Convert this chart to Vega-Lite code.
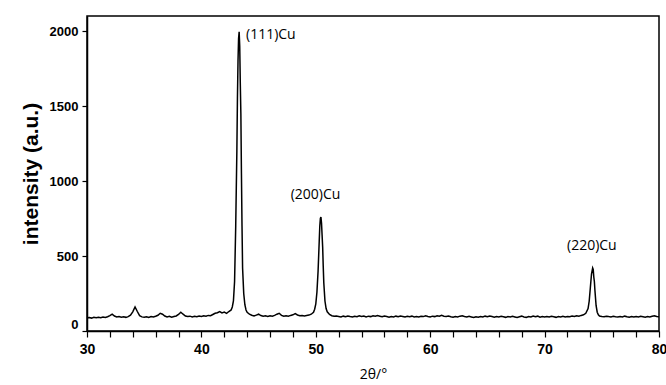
{
  "$schema": "https://vega.github.io/schema/vega-lite/v6.json",
  "width": 572,
  "height": 315,
  "autosize": {"type": "none"},
  "padding": {"left": 87, "top": 16, "right": 7, "bottom": 54},
  "background": "white",
  "config": {
    "view": {"stroke": "black", "strokeWidth": 1.5},
    "axis": {"grid": false, "domainColor": "black", "domainWidth": 1.5, "tickColor": "black", "tickWidth": 1.2, "labelColor": "black", "titleColor": "black"}
  },
  "encoding": {
    "x": {
      "field": "x", "type": "quantitative",
      "scale": {"domain": [30, 80], "nice": false, "zero": false},
      "axis": {
        "title": "2θ/°",
        "titleFont": "Open Sans", "titleFontSize": 14, "titleFontWeight": "normal", "titlePadding": 11,
        "values": [30,32,34,36,38,40,42,44,46,48,50,52,54,56,58,60,62,64,66,68,70,72,74,76,78,80],
        "labelExpr": "(datum.value == 30 || datum.value == 40 || datum.value == 50 || datum.value == 60 || datum.value == 70 || datum.value == 80) ? datum.label : ''",
        "labelFont": "Liberation Sans", "labelFontWeight": "bold", "labelFontSize": 14,
        "labelPadding": 5, "tickSize": 6, "labelOverlap": false, "labelFlush": false
      }
    },
    "y": {
      "field": "y", "type": "quantitative",
      "scale": {"domain": [0, 2100], "nice": false},
      "axis": {
        "title": "intensity (a.u.)",
        "titleFont": "Liberation Sans", "titleFontSize": 21, "titleFontWeight": "bold", "titlePadding": 8,
        "values": [0, 500, 1000, 1500, 2000],
        "format": "d",
        "labelFont": "Liberation Sans", "labelFontWeight": "bold", "labelFontSize": 13,
        "labelPadding": 4, "tickSize": 5, "labelFlush": true
      }
    }
  },
  "layer": [
    {
      "data": {"values": [
        {"x":30.0,"y":88},{"x":30.2,"y":90},{"x":30.4,"y":86},{"x":30.6,"y":91},{"x":30.8,"y":89},{"x":31.0,"y":92},{"x":31.2,"y":88},{"x":31.4,"y":93},{"x":31.6,"y":90},{"x":31.8,"y":95},
        {"x":32.0,"y":102},{"x":32.2,"y":112},{"x":32.4,"y":100},{"x":32.6,"y":94},{"x":32.8,"y":97},{"x":33.0,"y":92},{"x":33.2,"y":95},{"x":33.4,"y":91},{"x":33.6,"y":96},{"x":33.8,"y":105},
        {"x":34.0,"y":128},{"x":34.2,"y":160},{"x":34.4,"y":130},{"x":34.6,"y":102},{"x":34.8,"y":94},{"x":35.0,"y":91},{"x":35.2,"y":95},{"x":35.4,"y":90},{"x":35.6,"y":96},{"x":35.8,"y":93},
        {"x":36.0,"y":98},{"x":36.2,"y":105},{"x":36.4,"y":118},{"x":36.6,"y":112},{"x":36.8,"y":100},{"x":37.0,"y":94},{"x":37.2,"y":98},{"x":37.4,"y":92},{"x":37.6,"y":97},{"x":37.8,"y":100},
        {"x":38.0,"y":110},{"x":38.2,"y":125},{"x":38.4,"y":112},{"x":38.6,"y":100},{"x":38.8,"y":96},{"x":39.0,"y":99},{"x":39.2,"y":94},{"x":39.4,"y":98},{"x":39.6,"y":95},{"x":39.8,"y":100},
        {"x":40.0,"y":97},{"x":40.2,"y":101},{"x":40.4,"y":98},{"x":40.6,"y":104},{"x":40.8,"y":102},{"x":41.0,"y":110},{"x":41.2,"y":118},{"x":41.4,"y":122},{"x":41.6,"y":130},{"x":41.8,"y":120},
        {"x":42.0,"y":126},{"x":42.2,"y":118},{"x":42.4,"y":130},{"x":42.6,"y":140},{"x":42.7,"y":160},{"x":42.8,"y":200},{"x":42.9,"y":330},{"x":43.0,"y":700},{"x":43.1,"y":1200},{"x":43.15,"y":1550},
        {"x":43.2,"y":1800},{"x":43.25,"y":1950},{"x":43.3,"y":1995},{"x":43.35,"y":1900},{"x":43.4,"y":1650},{"x":43.45,"y":1450},{"x":43.5,"y":1050},{"x":43.55,"y":700},{"x":43.6,"y":420},{"x":43.7,"y":250},
        {"x":43.8,"y":175},{"x":43.9,"y":140},{"x":44.0,"y":125},{"x":44.2,"y":112},{"x":44.4,"y":105},{"x":44.6,"y":100},{"x":44.8,"y":106},{"x":45.0,"y":112},{"x":45.2,"y":103},{"x":45.4,"y":98},
        {"x":45.6,"y":101},{"x":45.8,"y":97},{"x":46.0,"y":102},{"x":46.2,"y":99},{"x":46.4,"y":104},{"x":46.6,"y":112},{"x":46.8,"y":118},{"x":47.0,"y":104},{"x":47.2,"y":98},{"x":47.4,"y":102},
        {"x":47.6,"y":99},{"x":47.8,"y":104},{"x":48.0,"y":108},{"x":48.2,"y":116},{"x":48.4,"y":107},{"x":48.6,"y":102},{"x":48.8,"y":104},{"x":49.0,"y":100},{"x":49.2,"y":103},{"x":49.4,"y":106},
        {"x":49.6,"y":112},{"x":49.8,"y":125},{"x":49.9,"y":145},{"x":50.0,"y":180},{"x":50.1,"y":260},{"x":50.2,"y":400},{"x":50.3,"y":600},{"x":50.35,"y":700},{"x":50.4,"y":750},{"x":50.45,"y":760},
        {"x":50.5,"y":720},{"x":50.55,"y":640},{"x":50.6,"y":560},{"x":50.65,"y":430},{"x":50.7,"y":320},{"x":50.8,"y":200},{"x":50.9,"y":150},{"x":51.0,"y":128},{"x":51.2,"y":110},{"x":51.4,"y":102},
        {"x":51.6,"y":98},{"x":51.8,"y":100},{"x":52.0,"y":97},{"x":52.2,"y":94},{"x":52.4,"y":99},{"x":52.6,"y":95},{"x":52.8,"y":100},{"x":53.0,"y":96},{"x":53.2,"y":93},{"x":53.4,"y":98},
        {"x":53.6,"y":95},{"x":53.8,"y":101},{"x":54.0,"y":97},{"x":54.2,"y":100},{"x":54.4,"y":94},{"x":54.6,"y":99},{"x":54.8,"y":96},{"x":55.0,"y":102},{"x":55.2,"y":98},{"x":55.4,"y":103},
        {"x":55.6,"y":99},{"x":55.8,"y":95},{"x":56.0,"y":100},{"x":56.2,"y":96},{"x":56.4,"y":92},{"x":56.6,"y":97},{"x":56.8,"y":94},{"x":57.0,"y":99},{"x":57.2,"y":95},{"x":57.4,"y":100},
        {"x":57.6,"y":97},{"x":57.8,"y":93},{"x":58.0,"y":98},{"x":58.2,"y":95},{"x":58.4,"y":99},{"x":58.6,"y":94},{"x":58.8,"y":97},{"x":59.0,"y":93},{"x":59.2,"y":98},{"x":59.4,"y":96},
        {"x":59.6,"y":101},{"x":59.8,"y":97},{"x":60.0,"y":94},{"x":60.2,"y":99},{"x":60.4,"y":96},{"x":60.6,"y":102},{"x":60.8,"y":98},{"x":61.0,"y":104},{"x":61.2,"y":99},{"x":61.4,"y":96},
        {"x":61.6,"y":100},{"x":61.8,"y":95},{"x":62.0,"y":92},{"x":62.2,"y":97},{"x":62.4,"y":94},{"x":62.6,"y":99},{"x":62.8,"y":102},{"x":63.0,"y":97},{"x":63.2,"y":93},{"x":63.4,"y":98},
        {"x":63.6,"y":94},{"x":63.8,"y":90},{"x":64.0,"y":95},{"x":64.2,"y":92},{"x":64.4,"y":97},{"x":64.6,"y":93},{"x":64.8,"y":99},{"x":65.0,"y":95},{"x":65.2,"y":100},{"x":65.4,"y":96},
        {"x":65.6,"y":92},{"x":65.8,"y":97},{"x":66.0,"y":94},{"x":66.2,"y":98},{"x":66.4,"y":95},{"x":66.6,"y":91},{"x":66.8,"y":96},{"x":67.0,"y":93},{"x":67.2,"y":98},{"x":67.4,"y":94},
        {"x":67.6,"y":90},{"x":67.8,"y":95},{"x":68.0,"y":99},{"x":68.2,"y":94},{"x":68.4,"y":91},{"x":68.6,"y":97},{"x":68.8,"y":93},{"x":69.0,"y":100},{"x":69.2,"y":95},{"x":69.4,"y":99},
        {"x":69.6,"y":92},{"x":69.8,"y":96},{"x":70.0,"y":93},{"x":70.2,"y":97},{"x":70.4,"y":94},{"x":70.6,"y":98},{"x":70.8,"y":95},{"x":71.0,"y":91},{"x":71.2,"y":96},{"x":71.4,"y":93},
        {"x":71.6,"y":98},{"x":71.8,"y":94},{"x":72.0,"y":97},{"x":72.2,"y":95},{"x":72.4,"y":100},{"x":72.6,"y":97},{"x":72.8,"y":102},{"x":73.0,"y":99},{"x":73.2,"y":104},{"x":73.4,"y":108},
        {"x":73.6,"y":118},{"x":73.8,"y":150},{"x":73.9,"y":200},{"x":74.0,"y":290},{"x":74.1,"y":380},{"x":74.2,"y":420},{"x":74.25,"y":410},{"x":74.3,"y":360},{"x":74.35,"y":330},{"x":74.4,"y":270},
        {"x":74.5,"y":170},{"x":74.6,"y":125},{"x":74.7,"y":108},{"x":74.8,"y":100},{"x":75.0,"y":97},{"x":75.2,"y":95},{"x":75.4,"y":99},{"x":75.6,"y":96},{"x":75.8,"y":94},{"x":76.0,"y":98},
        {"x":76.2,"y":95},{"x":76.4,"y":93},{"x":76.6,"y":97},{"x":76.8,"y":94},{"x":77.0,"y":99},{"x":77.2,"y":95},{"x":77.4,"y":92},{"x":77.6,"y":96},{"x":77.8,"y":93},{"x":78.0,"y":97},
        {"x":78.2,"y":94},{"x":78.4,"y":98},{"x":78.6,"y":95},{"x":78.8,"y":92},{"x":79.0,"y":96},{"x":79.2,"y":93},{"x":79.4,"y":98},{"x":79.6,"y":102},{"x":79.8,"y":97},{"x":80.0,"y":95}
      ]},
      "mark": {"type": "line", "color": "black", "strokeWidth": 1.5, "interpolate": "linear"}
    },
    {
      "data": {"values": [
        {"x": 43.9, "y": 1975, "label": "(111)Cu"},
        {"x": 47.8, "y": 905, "label": "(200)Cu"},
        {"x": 71.96, "y": 570, "label": "(220)Cu"}
      ]},
      "mark": {"type": "text", "font": "Open Sans", "fontSize": 14, "color": "black", "baseline": "middle", "align": "left"},
      "encoding": {
        "text": {"field": "label"}
      }
    }
  ]
}
